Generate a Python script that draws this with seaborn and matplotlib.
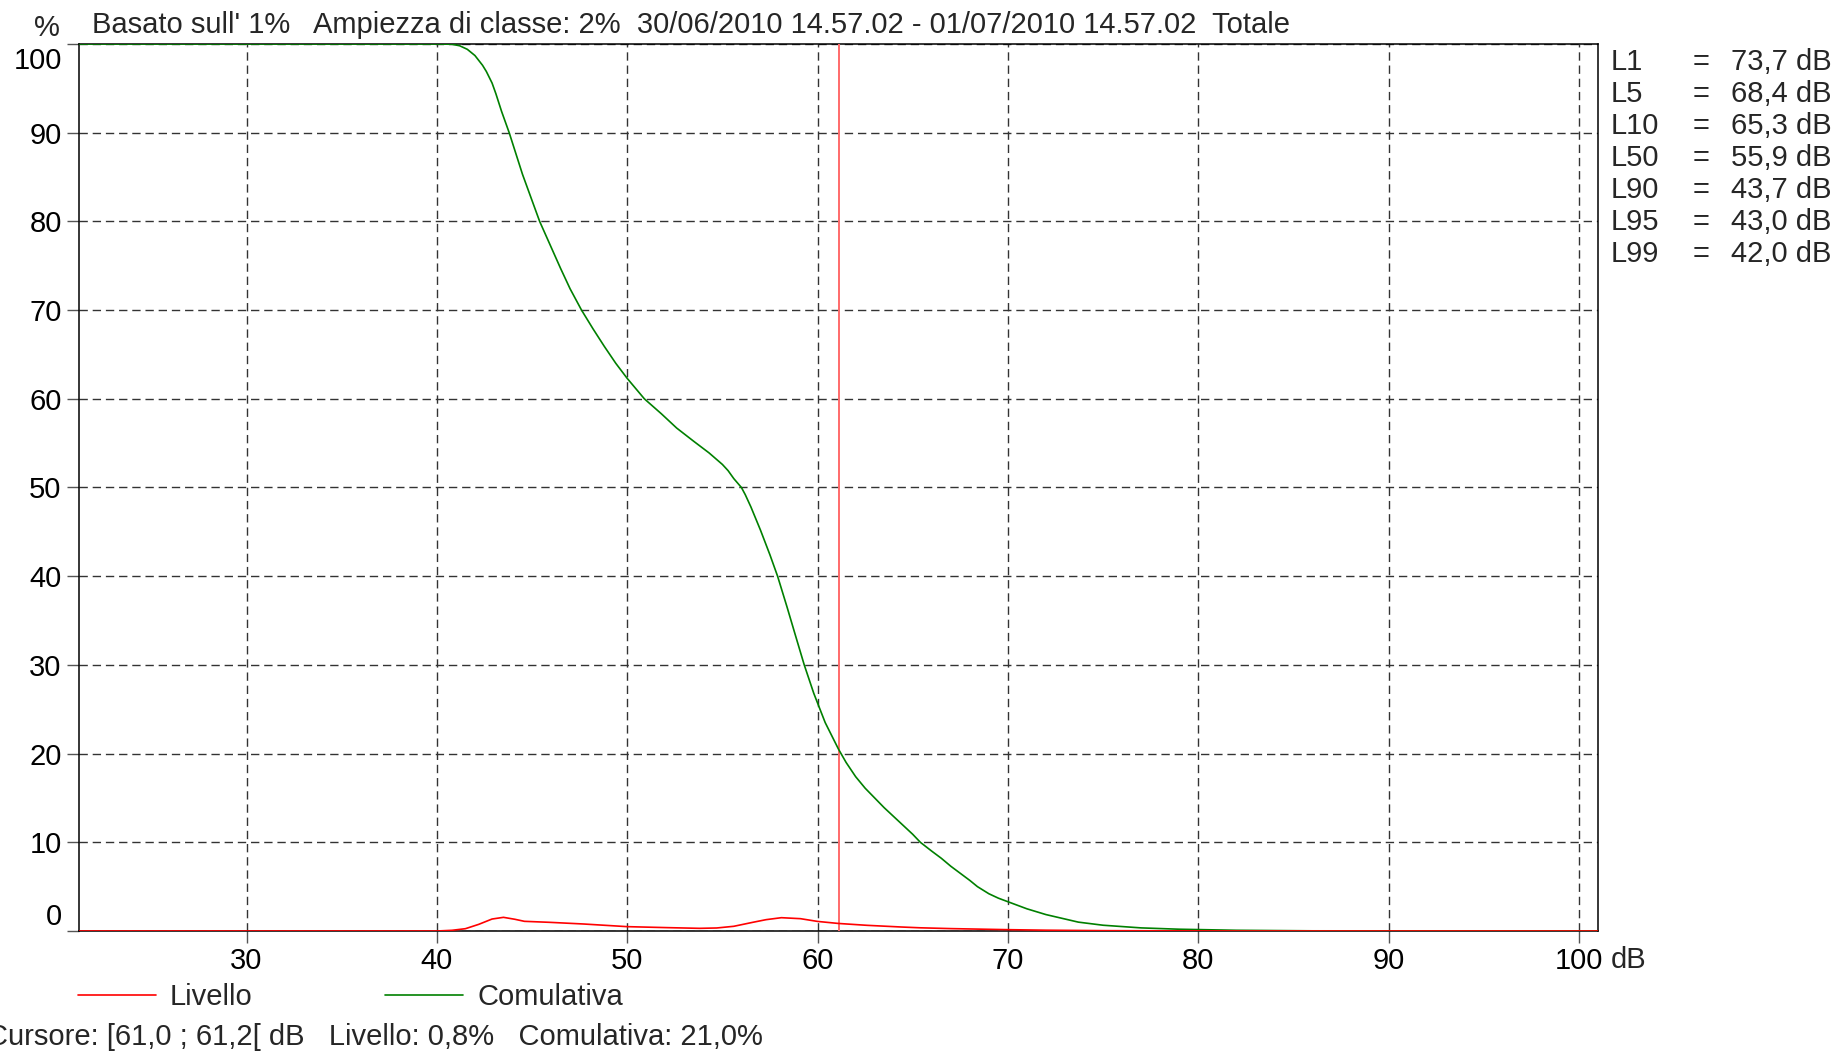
import numpy as np
import pandas as pd
import seaborn as sns
from matplotlib import pyplot as plt
from matplotlib.lines import Line2D
from matplotlib import transforms

# cumulative curve (% of time above level)
cum_db = [21.2, 40.0, 40.8, 41.2, 41.6, 42.0, 42.4, 42.6, 42.9, 43.1, 43.4, 43.8, 44.5,
          45.4, 46.5, 47.0, 47.6, 48.2, 48.8, 49.4, 50.0, 50.9, 51.8, 52.6, 53.5, 54.3,
          55.0, 55.3, 55.6, 55.8, 56.0, 56.2, 56.5, 57.0, 57.5, 57.9, 58.4, 58.8, 59.3,
          59.8, 60.4, 61.1, 61.5, 62.0, 62.5, 63.0, 63.5, 64.0, 64.5, 65.0, 65.4, 66.0,
          66.5, 67.0, 67.5, 68.0, 68.4, 69.0, 69.5, 70.0, 71.0, 72.0, 73.7, 75.0, 77.0,
          79.0, 82.0, 86.0, 101.0]
cum_pct = [100, 100, 99.97, 99.8, 99.4, 98.7, 97.6, 96.9, 95.6, 94.4, 92.4, 90.0, 85.3,
           80.0, 74.7, 72.4, 70.0, 67.9, 65.9, 64.0, 62.3, 60.0, 58.3, 56.7, 55.2, 53.9,
           52.6, 51.9, 51.0, 50.5, 50.0, 49.2, 47.8, 45.2, 42.4, 40.0, 36.5, 33.6, 30.0,
           26.8, 23.5, 20.5, 19.0, 17.4, 16.1, 15.0, 13.9, 12.9, 11.9, 10.9, 10.0, 9.0,
           8.2, 7.3, 6.5, 5.7, 5.0, 4.2, 3.7, 3.3, 2.5, 1.85, 1.0, 0.65, 0.35,
           0.2, 0.08, 0.02, 0]

# level distribution (% per class)
lev_db = [21.2, 40.0, 40.8, 41.5, 42.2, 42.9, 43.5, 44.1, 44.6, 45.9, 47.7, 50.0, 52.1,
          53.8, 54.7, 55.6, 56.6, 57.3, 58.1, 59.1, 60.0, 61.1, 62.6, 64.4, 65.4, 67.0,
          70.0, 72.0, 75.0, 78.0, 82.0, 101.0]
lev_pct = [0, 0, 0.08, 0.26, 0.75, 1.35, 1.54, 1.32, 1.09, 0.98, 0.79, 0.49, 0.38,
           0.30, 0.34, 0.53, 0.98, 1.28, 1.50, 1.39, 1.08, 0.85, 0.64, 0.45, 0.36, 0.27,
           0.15, 0.09, 0.04, 0.02, 0.005, 0]

cursor_db = 61.1
stat_names = ['L1', 'L5', 'L10', 'L50', 'L90', 'L95', 'L99']
stat_vals = ['73,7 dB', '68,4 dB', '65,3 dB', '55,9 dB', '43,7 dB', '43,0 dB', '42,0 dB']

title = "Basato sull' 1%   Ampiezza di classe: 2%  30/06/2010 14.57.02 - 01/07/2010 14.57.02  Totale"
cursor_txt = "Cursore: [61,0 ; 61,2[ dB   Livello: 0,8%   Comulativa: 21,0%"

sns.set_theme(style='white')
plt.rcParams['font.family'] = ['Liberation Sans', 'DejaVu Sans']
FS = 21

W, H = 1836, 1054
fig = plt.figure(figsize=(W / 100, H / 100), dpi=100)
ax = fig.add_axes([79 / W, 1 - 931 / H, (1598 - 79) / W, (931 - 44) / H])

df_cum = pd.DataFrame({'db': cum_db, 'pct': cum_pct})
df_lev = pd.DataFrame({'db': lev_db, 'pct': lev_pct})

ax.axvline(cursor_db, color='#ff6a6a', lw=1.4, zorder=3)
sns.lineplot(data=df_cum, x='db', y='pct', color='#008000', lw=1.2, ax=ax, zorder=4)
sns.lineplot(data=df_lev, x='db', y='pct', color='#ff0000', lw=1.2, ax=ax, zorder=5)

ax.set_xlim(21.2, 101.0)
ax.set_ylim(0, 100)
ax.set_xticks(range(30, 101, 10))
ax.set_yticks(range(0, 101, 10))
ax.set_xlabel('')
ax.set_ylabel('')
ax.grid(True, color='#333333', lw=1.0, linestyle=(0, (6, 3.5)))
for s in ax.spines.values():
    s.set_color('black')
    s.set_linewidth(1.1)
ax.tick_params(axis='both', which='both', direction='out', length=8.5, width=1,
               color='#555555', labelsize=FS, labelcolor='black', pad=4)
ax.tick_params(axis='x', bottom=True, pad=3)
ax.tick_params(axis='y', left=True)

fig.canvas.draw()
ylabs = ax.get_yticklabels()
ylabs[0].set_va('bottom')
ylabs[-1].set_va('top')
ylabs[-1].set_transform(ylabs[-1].get_transform() +
                        transforms.ScaledTranslation(0, -3 / 100, fig.dpi_scale_trans))

fig.text(47 / W, 1 - 28 / H, '%', fontsize=FS, ha='center', va='center')
fig.text(92 / W, 1 - 25 / H, title, fontsize=FS, ha='left', va='center')
fig.text(1611 / W, 1 - 960 / H, 'dB', fontsize=FS, ha='left', va='center')

for i, (n, v) in enumerate(zip(stat_names, stat_vals)):
    y = 1 - (62 + i * 32) / H
    fig.text(1611 / W, y, n, fontsize=FS, ha='left', va='center')
    fig.text(1693 / W, y, '=', fontsize=FS, ha='left', va='center')
    fig.text(1731 / W, y, v, fontsize=FS, ha='left', va='center')

hl = [Line2D([], [], color='#ff0000', lw=1.2), Line2D([], [], color='#008000', lw=1.2)]
fig.legend(hl, ['Livello', 'Comulativa'], loc='center left', ncol=2,
           bbox_to_anchor=(78 / W, 1 - 997 / H), frameon=False, fontsize=FS,
           handlelength=2.67, handletextpad=0.48, columnspacing=4.55,
           borderpad=0, borderaxespad=0)
if ax.get_legend() is not None:
    ax.get_legend().remove()

fig.text(-13 / W, 1 - 1037 / H, cursor_txt, fontsize=FS, ha='left', va='center')

fig.savefig('out.png', dpi=100)
